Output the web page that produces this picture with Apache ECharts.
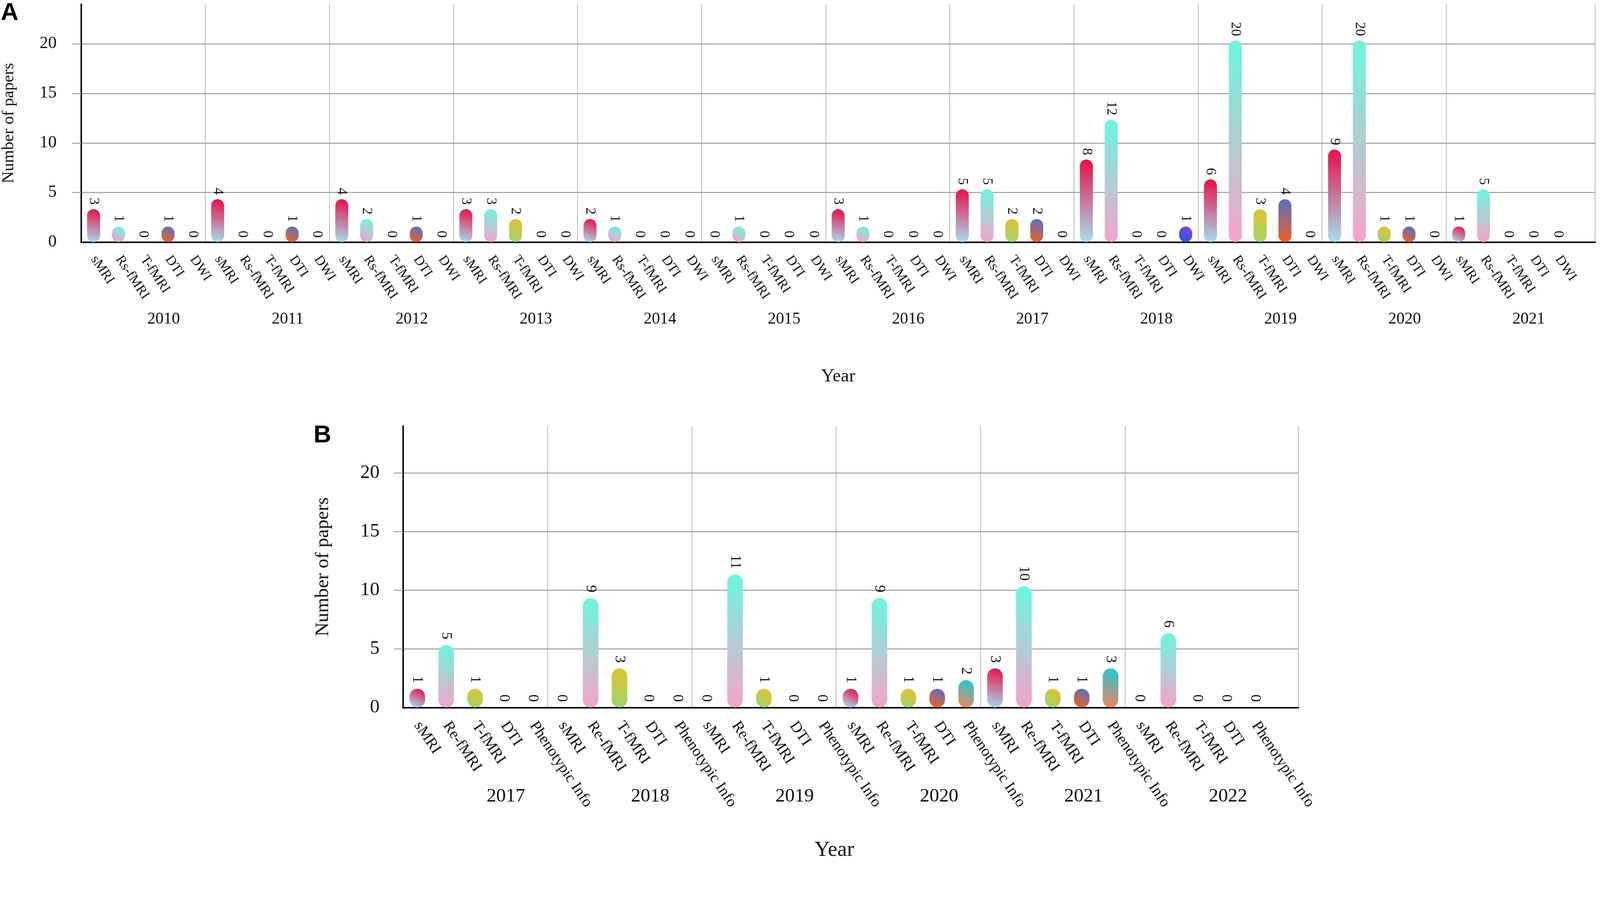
<!DOCTYPE html>
<html>
<head>
<meta charset="utf-8">
<title>Number of papers per modality and year</title>
<script src="https://cdn.jsdelivr.net/npm/echarts@6/dist/echarts.min.js"></script>
<style>
  html, body { margin: 0; padding: 0; background: #fff; overflow: hidden; }
  #chart { width: 100vw; height: 100vh; }
</style>
</head>
<body>
<div id="chart"></div>
<script>
// panel A: 2010-2021
var yearsA = ['2010', '2011', '2012', '2013', '2014', '2015', '2016', '2017', '2018', '2019', '2020', '2021'];
var modalitiesA = ['sMRI', 'Rs-fMRI', 'T-fMRI', 'DTI', 'DWI'];
var sMriA   = [3, 4, 4, 3, 2, 0, 3, 5, 8, 6, 9, 1];
var rsFmriA = [1, 0, 2, 3, 1, 1, 1, 5, 12, 20, 20, 5];
var tFmriA  = [0, 0, 0, 2, 0, 0, 0, 2, 0, 3, 1, 0];
var dtiA    = [1, 1, 1, 0, 0, 0, 0, 2, 0, 4, 1, 0];
var dwiA    = [0, 0, 0, 0, 0, 0, 0, 0, 1, 0, 0, 0];

// panel B: 2017-2022
var yearsB = ['2017', '2018', '2019', '2020', '2021', '2022'];
var modalitiesB = ['sMRI', 'Re-fMRI', 'T-fMRI', 'DTI', 'Phenotypic Info'];
var sMriB   = [1, 0, 0, 1, 3, 0];
var reFmriB = [5, 9, 11, 9, 10, 6];
var tFmriB  = [1, 3, 1, 1, 1, 0];
var dtiB    = [0, 0, 0, 1, 1, 0];
var phenoB  = [0, 0, 0, 2, 3, 0];

var yTickLabels = [0, 5, 10, 15, 20];
var yGridValues = [5, 10, 15, 20];

// gradient top -> bottom for each modality
var colorsA = [
  ['#ea0d47', '#a5def0'],
  ['#6af7dc', '#f6a2cd'],
  ['#e2c22c', '#9ed46e'],
  ['#5470c8', '#f2601c'],
  ['#8b3ce6', '#1f5fd0']
];
var colorsB = [
  ['#ea0d47', '#a5def0'],
  ['#6af7dc', '#f6a2cd'],
  ['#e2c22c', '#9ed46e'],
  ['#5470c8', '#f2601c'],
  ['#1ec8d8', '#f4845a']
];

var serif = 'Liberation Serif';

var dom = document.getElementById('chart');
// layout was measured on a 4317 px wide figure, scale it to the real size
var s = dom.clientWidth / 4317;
function px(v) { return v * s; }

function buildCats(years, mods) {
  var out = [];
  years.forEach(function () { mods.forEach(function (m) { out.push(m); }); });
  return out;
}

// year name sits on the middle slot of its group
function buildYearSlots(years, n) {
  var out = [];
  years.forEach(function (y) {
    for (var k = 0; k < n; k++) out.push(k === Math.floor(n / 2) ? y : '');
  });
  return out;
}

function buildData(years, lists) {
  var out = [];
  years.forEach(function (y, i) {
    lists.forEach(function (list, j) {
      out.push([i * lists.length + j, list[i], j]);
    });
  });
  return out;
}

function pillItem(colors, barW, gap, fontSize) {
  return function (params, api) {
    var idx = api.value(0), v = api.value(1), kind = api.value(2);
    var base = api.coord([idx, 0]);
    var top = api.coord([idx, v]);
    var yTop = base[1];
    var children = [];
    if (v > 0) {
      var h = Math.max(base[1] - top[1] + barW * 0.25, barW * 1.2);
      yTop = base[1] - h;
      children.push({
        type: 'rect',
        shape: { x: base[0] - barW / 2, y: yTop, width: barW, height: h, r: barW / 2 },
        style: {
          fill: new echarts.graphic.LinearGradient(0.8, 0, 0.2, 1, [
            { offset: 0, color: colors[kind][0] },
            { offset: 1, color: colors[kind][1] }
          ])
        }
      });
    }
    children.push({
      type: 'text',
      x: base[0],
      y: yTop - gap,
      rotation: -Math.PI / 2,
      style: {
        text: String(v), align: 'right', verticalAlign: 'middle',
        fontFamily: serif, fontSize: fontSize, fill: '#111'
      }
    });
    return { type: 'group', children: children };
  };
}

// one empty slot is left after the last group, as in the original figure
function catAxis(grid, cats, fontSize, margin) {
  var n = cats.length;
  return {
    gridIndex: grid, type: 'category', data: cats, boundaryGap: true, max: n,
    axisLine: { lineStyle: { color: '#000', width: px(4) } },
    axisTick: { show: false },
    axisLabel: { interval: 0, rotate: -56, margin: px(margin), fontFamily: serif, fontSize: px(fontSize), color: '#111' },
    splitLine: {
      show: true,
      interval: function (i) { return i > 0 && i < n && i % 5 === 0; },
      lineStyle: { color: '#9a9a9a', width: px(1.5) }
    }
  };
}

function yearAxis(grid, slots, fontSize, margin, shift, nameSize, nameGap, nameShift) {
  return {
    gridIndex: grid, type: 'category', data: slots, position: 'bottom', max: slots.length,
    axisLine: { show: false }, axisTick: { show: false }, splitLine: { show: false },
    axisLabel: { interval: 0, margin: px(margin), fontFamily: serif, fontSize: px(fontSize), color: '#111', padding: [0, 0, 0, px(shift)] },
    name: 'Year', nameLocation: 'middle', nameGap: px(nameGap),
    nameTextStyle: { fontFamily: serif, fontSize: px(nameSize), color: '#111', padding: [0, px(nameShift), 0, 0] }
  };
}

function valAxis(grid, fontSize, margin, nameSize, nameGap) {
  return {
    gridIndex: grid, type: 'value', min: 0, max: 24, interval: 5,
    axisLine: { show: true, lineStyle: { color: '#000', width: px(4) } },
    axisTick: { show: true, customValues: yGridValues, length: px(24), lineStyle: { color: '#aaa', width: px(3) } },
    axisLabel: { customValues: yTickLabels, margin: px(margin), fontFamily: serif, fontSize: px(fontSize), color: '#111' },
    splitLine: { show: true, lineStyle: { color: '#aaa', width: px(3) } },
    name: 'Number of papers', nameLocation: 'middle', nameGap: px(nameGap),
    nameTextStyle: { fontFamily: serif, fontSize: px(nameSize), color: '#111' }
  };
}

var chart = echarts.init(dom);

var titleFont = { fontFamily: 'Liberation Sans', fontWeight: 'bold', fontSize: px(66), color: '#000' };

chart.setOption({
  backgroundColor: '#fff',
  animation: false,
  title: [
    { text: 'A', left: px(2), top: px(2), padding: 0, textStyle: titleFont },
    { text: 'B', left: px(846), top: px(1142), padding: 0, textStyle: titleFont }
  ],
  grid: [
    { left: px(219), top: px(11), width: px(4085), height: px(642), outerBoundsMode: 'none' },
    { left: px(1087), top: px(1149), width: px(2416), height: px(759), outerBoundsMode: 'none' }
  ],
  xAxis: [
    catAxis(0, buildCats(yearsA, modalitiesA), 37, 40),
    yearAxis(0, buildYearSlots(yearsA, modalitiesA.length), 44, 186, 110, 50, 338, 0),
    catAxis(1, buildCats(yearsB, modalitiesB), 42, 42),
    yearAxis(1, buildYearSlots(yearsB, modalitiesB.length), 52, 214, 166, 58, 356, 88)
  ],
  yAxis: [
    valAxis(0, 46, 66, 45, 172),
    valAxis(1, 52, 63, 52, 189)
  ],
  series: [
    {
      type: 'custom', xAxisIndex: 0, yAxisIndex: 0,
      encode: { x: 0, y: 1 },
      data: buildData(yearsA, [sMriA, rsFmriA, tFmriA, dtiA, dwiA]),
      renderItem: pillItem(colorsA, px(35), px(12), px(38))
    },
    {
      type: 'custom', xAxisIndex: 2, yAxisIndex: 1,
      encode: { x: 0, y: 1 },
      data: buildData(yearsB, [sMriB, reFmriB, tFmriB, dtiB, phenoB]),
      renderItem: pillItem(colorsB, px(42), px(15), px(40))
    }
  ]
});
</script>
</body>
</html>
